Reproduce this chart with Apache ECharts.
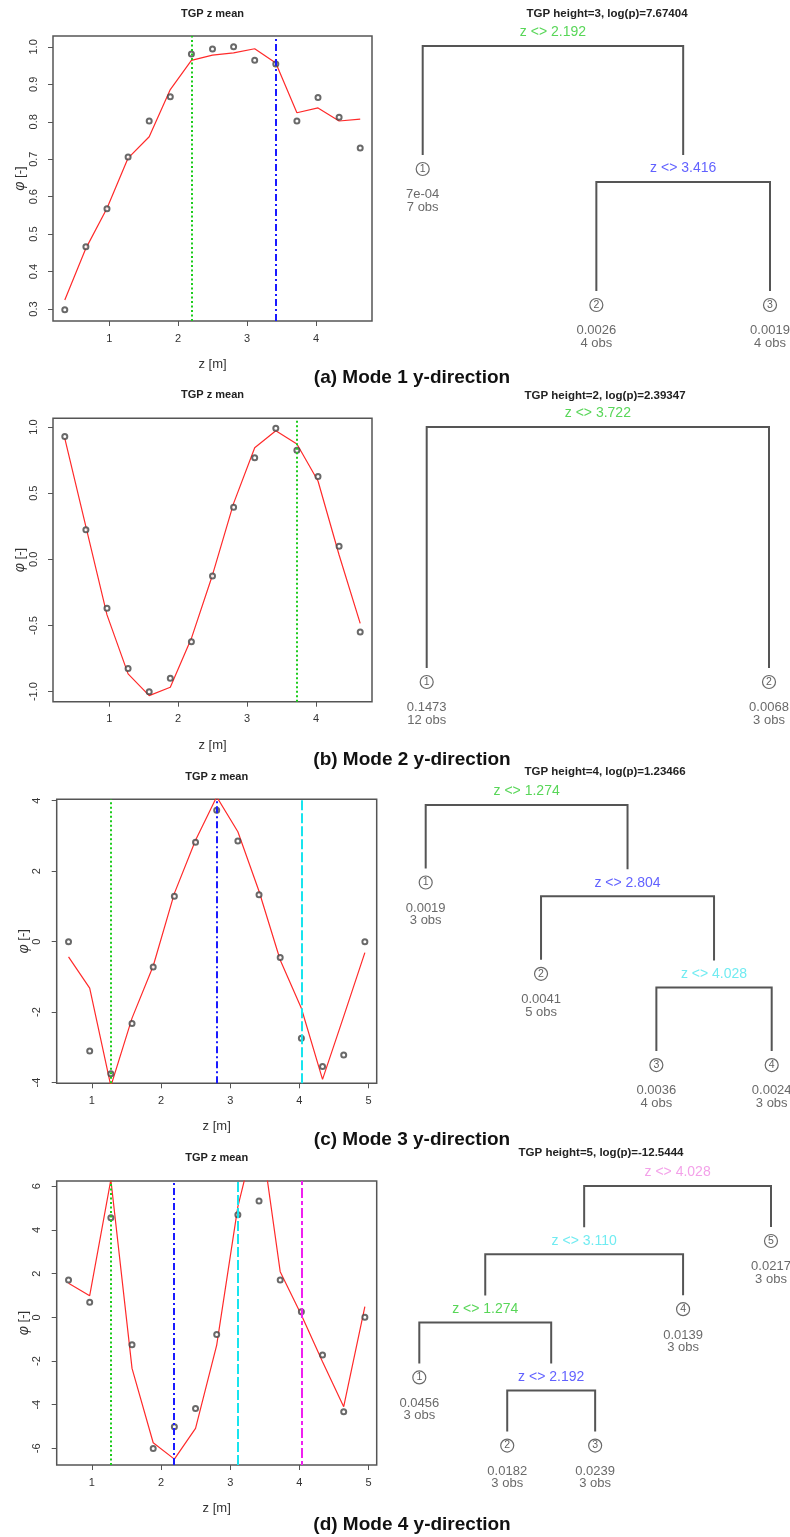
<!DOCTYPE html>
<html><head><meta charset="utf-8">
<script src="https://cdn.jsdelivr.net/npm/echarts@6/dist/echarts.min.js"></script>
<style>html,body{margin:0;padding:0;background:#fff}#c{width:790px;height:1537px}</style>
</head><body><div id="c"></div>
<script>
// ---------- DATA ----------
const zAB = [0.356, 0.662, 0.968, 1.274, 1.580, 1.886, 2.192, 2.498, 2.804, 3.110, 3.416, 3.722, 4.028, 4.334, 4.640];
const zCD = [0.662, 0.968, 1.274, 1.580, 1.886, 2.192, 2.498, 2.804, 3.110, 3.416, 3.722, 4.028, 4.334, 4.640, 4.946];

const obsA  = [0.298, 0.466, 0.568, 0.706, 0.802, 0.867, 0.981, 0.994, 1.000, 0.964, 0.954, 0.802, 0.865, 0.812, 0.730];
const meanA = [0.324, 0.462, 0.569, 0.703, 0.760, 0.886, 0.964, 0.978, 0.984, 0.995, 0.957, 0.824, 0.837, 0.802, 0.807];

const obsB  = [0.929, 0.224, -0.370, -0.826, -1.000, -0.899, -0.622, -0.126, 0.393, 0.768, 0.990, 0.824, 0.627, 0.098, -0.549];
const meanB = [0.914, 0.247, -0.420, -0.866, -1.030, -0.967, -0.597, -0.118, 0.423, 0.844, 0.972, 0.872, 0.592, 0.033, -0.484];

const obsC  = [0.00, -3.10, -3.75, -2.32, -0.72, 1.29, 2.82, 3.73, 2.86, 1.33, -0.45, -2.74, -3.54, -3.22, 0.00];
const meanC = [-0.43, -1.32, -4.10, -2.17, -0.69, 1.37, 2.88, 4.11, 3.12, 1.43, -0.52, -1.89, -3.91, -2.12, -0.31];

const obsD  = [1.71, 0.69, 4.56, -1.25, -6.00, -5.01, -4.17, -0.79, 4.69, 5.33, 1.71, 0.26, -1.73, -4.32, 0.00];
const meanD = [1.56, 0.99, 6.30, -2.34, -5.74, -6.49, -5.08, -1.27, 5.07, 9.00, 2.09, 0.11, -2.03, -4.09, 0.49];

const splitsA = [2.192, 3.416];               const splitKindsA = ['green', 'blue'];
const splitsB = [3.722];                      const splitKindsB = ['green'];
const splitsC = [1.274, 2.804, 4.028];        const splitKindsC = ['green', 'blue', 'cyan'];
const splitsD = [1.274, 2.192, 3.110, 4.028]; const splitKindsD = ['green', 'blue', 'cyan', 'magenta'];

const xTicksAB = [1, 2, 3, 4];
const xTicksCD = [1, 2, 3, 4, 5];
const yTicksA = [0.3, 0.4, 0.5, 0.6, 0.7, 0.8, 0.9, 1.0];
const yTicksB = [-1.0, -0.5, 0.0, 0.5, 1.0];
const yTicksC = [-4, -2, 0, 2, 4];
const yTicksD = [-6, -4, -2, 0, 2, 4, 6];

const xRangeAB = [0.185, 4.811];
const xRangeCD = [0.491, 5.117];
const yRangeA = [0.268, 1.029];
const yRangeB = [-1.076, 1.066];
const yRangeC = [-4.02, 4.04];
const yRangeD = [-6.76, 6.24];

// regression trees (split value, colour kind, leaf value, number of obs)
const treeA = {split: 'z <> 2.192', kind: 'green',
  L: {leaf: '7e-04', n: 7},
  R: {split: 'z <> 3.416', kind: 'blue', L: {leaf: '0.0026', n: 4}, R: {leaf: '0.0019', n: 4}}};
const treeB = {split: 'z <> 3.722', kind: 'green',
  L: {leaf: '0.1473', n: 12}, R: {leaf: '0.0068', n: 3}};
const treeC = {split: 'z <> 1.274', kind: 'green',
  L: {leaf: '0.0019', n: 3},
  R: {split: 'z <> 2.804', kind: 'blue', L: {leaf: '0.0041', n: 5},
      R: {split: 'z <> 4.028', kind: 'cyan', L: {leaf: '0.0036', n: 4}, R: {leaf: '0.0024', n: 3}}}};
const treeD = {split: 'z <> 4.028', kind: 'magenta',
  L: {split: 'z <> 3.110', kind: 'cyan',
      L: {split: 'z <> 1.274', kind: 'green', L: {leaf: '0.0456', n: 3},
          R: {split: 'z <> 2.192', kind: 'blue', L: {leaf: '0.0182', n: 3}, R: {leaf: '0.0239', n: 3}}},
      R: {leaf: '0.0139', n: 3}},
  R: {leaf: '0.0217', n: 3}};

const plotTitle = 'TGP z mean';
const treeTitles = ['TGP height=3, log(p)=7.67404', 'TGP height=2, log(p)=2.39347',
                    'TGP height=4, log(p)=1.23466', 'TGP height=5, log(p)=-12.5444'];
const captions = ['(a) Mode 1 y-direction', '(b) Mode 2 y-direction',
                  '(c) Mode 3 y-direction', '(d) Mode 4 y-direction'];
const xName = 'z [m]';

// ---------- STYLE / LAYOUT ----------
const FONT = '"Liberation Sans", Arial, Helvetica, sans-serif';
const lineKinds = {
  green:   {color: '#1ccc1c', type: [2, 2.5], width: 2},
  blue:    {color: '#1a1aff', type: [7, 3, 2, 3], width: 2},
  cyan:    {color: '#18e4ee', type: [10, 3], width: 2},
  magenta: {color: '#f020f0', type: [4, 3, 10, 3], width: 2}
};
const labelKinds = {green: '#2ecc2e', blue: '#3a3aff', cyan: '#4ce6ee', magenta: '#f08ae4'};

const panels = [
  {z: zAB, obs: obsA, mean: meanA, splits: splitsA, kinds: splitKindsA, xr: xRangeAB, yr: yRangeA, xt: xTicksAB, yt: yTicksA, dec: 1, box: [53, 36, 372, 321], titleY: 14},
  {z: zAB, obs: obsB, mean: meanB, splits: splitsB, kinds: splitKindsB, xr: xRangeAB, yr: yRangeB, xt: xTicksAB, yt: yTicksB, dec: 1, box: [53, 418.3, 372, 701.7], titleY: 395},
  {z: zCD, obs: obsC, mean: meanC, splits: splitsC, kinds: splitKindsC, xr: xRangeCD, yr: yRangeC, xt: xTicksCD, yt: yTicksC, dec: 0, box: [56.7, 799.3, 376.7, 1083.3], titleY: 776.7},
  {z: zCD, obs: obsD, mean: meanD, splits: splitsD, kinds: splitKindsD, xr: xRangeCD, yr: yRangeD, xt: xTicksCD, yt: yTicksD, dec: 0, box: [56.7, 1181, 376.7, 1465], titleY: 1157.7}
];

const treeLayouts = [
  {tree: treeA, firstX: 422.7, lastX: 770, rootY: 46, step: 136, leafDrop: 123, titleX: 607, titleY: 14},
  {tree: treeB, firstX: 426.7, lastX: 769, rootY: 427, step: 255, leafDrop: 255, titleX: 605, titleY: 395.7},
  {tree: treeC, firstX: 425.7, lastX: 771.7, rootY: 805, step: 91.3, leafDrop: 77.5, titleX: 605, titleY: 772.3},
  {tree: treeD, firstX: 419.3, lastX: 771, rootY: 1186, step: 68.2, leafDrop: 55, titleX: 601, titleY: 1153.3}
];
const captionPos = [[412, 378], [412, 760], [412, 1140], [412, 1525]];

const NODE_GAP = 27, LEAF_GAP = 14;

// ---------- BUILD ----------
const grids = [], xAxes = [], yAxes = [], series = [], graphics = [];

panels.forEach((p, i) => {
  const [l, t, r, b] = p.box;
  grids.push({left: l, top: t, width: r - l, height: b - t, show: true, borderColor: '#555', borderWidth: 1.5, backgroundColor: 'transparent'});
  xAxes.push({
    type: 'value', gridIndex: i, min: p.xr[0], max: p.xr[1], position: 'bottom',
    axisLine: {show: false, onZero: false}, splitLine: {show: false},
    axisTick: {show: true, inside: false, length: 5, lineStyle: {color: '#555', width: 1}, customValues: p.xt},
    axisLabel: {show: true, customValues: p.xt, color: '#333', fontSize: 11, fontFamily: FONT, margin: 12, formatter: v => String(v)},
    name: xName, nameLocation: 'middle', nameGap: 37,
    nameTextStyle: {color: '#333', fontSize: 13, fontFamily: FONT}
  });
  yAxes.push({
    type: 'value', gridIndex: i, min: p.yr[0], max: p.yr[1], position: 'left',
    axisLine: {show: false, onZero: false}, splitLine: {show: false},
    axisTick: {show: true, inside: false, length: 5, lineStyle: {color: '#555', width: 1}, customValues: p.yt},
    axisLabel: {show: true, customValues: p.yt, rotate: 90, color: '#333', fontSize: 11, fontFamily: FONT, margin: 14,
      formatter: v => Number(v).toFixed(p.dec)},
    name: '{i|φ} [-]', nameLocation: 'middle', nameGap: 26, nameRotate: 90,
    nameTextStyle: {color: '#333', fontSize: 13, fontFamily: FONT, rich: {i: {fontStyle: 'italic', fontSize: 14, fontFamily: FONT, color: '#333'}}}
  });
  series.push({
    type: 'line', xAxisIndex: i, yAxisIndex: i, data: p.z.map((z, k) => [z, p.mean[k]]),
    showSymbol: false, symbol: 'none', clip: true, z: 3,
    lineStyle: {color: '#ff2a2a', width: 1.2}, silent: true,
    markLine: {
      silent: true, symbol: 'none', label: {show: false},
      data: p.splits.map((s, k) => ({xAxis: s, lineStyle: {
        color: lineKinds[p.kinds[k]].color, type: lineKinds[p.kinds[k]].type, width: lineKinds[p.kinds[k]].width}}))
    }
  });
  series.push({
    type: 'scatter', xAxisIndex: i, yAxisIndex: i, data: p.z.map((z, k) => [z, p.obs[k]]),
    symbol: 'emptyCircle', symbolSize: 5, clip: true, z: 4, silent: true,
    itemStyle: {color: '#444', borderColor: '#444', borderWidth: 0.8}
  });
  graphics.push({type: 'text', x: (l + r) / 2, y: p.titleY,
    style: {text: plotTitle, font: 'bold 11px ' + FONT, fill: '#222', align: 'center', verticalAlign: 'middle', textAlign: 'center', textVerticalAlign: 'middle'}});
});

// trees
treeLayouts.forEach((T, ti) => {
  const gi = panels.length + ti;
  const leaves = [], nodes = [], edges = [];
  let leafCount = 0;
  const dropFrac = T.leafDrop / T.step;
  function layout(node, depth) {
    if (node.leaf !== undefined) {
      node.x = leafCount++;
      node.idx = leafCount;
      leaves.push(node);
      return;
    }
    layout(node.L, depth + 1);
    layout(node.R, depth + 1);
    node.x = (node.L.x + node.R.x) / 2;
    node.lev = depth;
    node.L.lev = node.L.leaf !== undefined ? depth + dropFrac : node.L.lev;
    node.R.lev = node.R.leaf !== undefined ? depth + dropFrac : node.R.lev;
    nodes.push(node);
  }
  layout(T.tree, 0);
  nodes.forEach(nd => edges.push([nd.x, nd.lev, nd.L.x, nd.L.lev, nd.L.leaf !== undefined ? 1 : 0,
                                   nd.R.x, nd.R.lev, nd.R.leaf !== undefined ? 1 : 0]));
  const maxLev = Math.max(...leaves.map(lf => lf.lev));
  grids.push({left: T.firstX, top: T.rootY, width: T.lastX - T.firstX, height: maxLev * T.step, show: false});
  xAxes.push({type: 'value', gridIndex: gi, min: 0, max: leafCount - 1, show: false});
  yAxes.push({type: 'value', gridIndex: gi, min: 0, max: maxLev, inverse: true, show: false});
  series.push({
    type: 'custom', xAxisIndex: gi, yAxisIndex: gi, data: edges, clip: false, silent: true,
    encode: {x: 0, y: 1},
    renderItem: function (params, api) {
      const p = api.coord([api.value(0), api.value(1)]);
      const a = api.coord([api.value(2), api.value(3)]);
      const b = api.coord([api.value(5), api.value(6)]);
      const ga = api.value(4) ? LEAF_GAP : NODE_GAP;
      const gb = api.value(7) ? LEAF_GAP : NODE_GAP;
      return {type: 'polyline',
        shape: {points: [[a[0], a[1] - ga], [a[0], p[1]], [b[0], p[1]], [b[0], b[1] - gb]]},
        style: {stroke: '#555', lineWidth: 2, fill: null}};
    }
  });
  // split labels
  series.push({
    type: 'scatter', xAxisIndex: gi, yAxisIndex: gi, clip: false, silent: true,
    symbol: 'circle', symbolSize: 0.1, itemStyle: {color: 'rgba(0,0,0,0)'},
    data: nodes.map(nd => ({value: [nd.x, nd.lev], label: {color: labelKinds[nd.kind]}, name: nd.split})),
    label: {show: true, position: 'inside', offset: [0, -13.5], formatter: d => d.name, fontSize: 14, fontFamily: FONT}
  });
  // leaf circles
  series.push({
    type: 'scatter', xAxisIndex: gi, yAxisIndex: gi, clip: false, silent: true,
    symbol: 'circle', symbolSize: 13, itemStyle: {color: '#fff', borderColor: '#444', borderWidth: 1.2},
    data: leaves.map(lf => ({value: [lf.x, lf.lev], name: String(lf.idx)})),
    label: {show: true, position: 'inside', formatter: d => d.name, fontSize: 10.5, color: '#333', fontFamily: FONT}
  });
  // leaf texts
  series.push({
    type: 'scatter', xAxisIndex: gi, yAxisIndex: gi, clip: false, silent: true,
    symbol: 'circle', symbolSize: 0.1, itemStyle: {color: 'rgba(0,0,0,0)'},
    data: leaves.map(lf => ({value: [lf.x, lf.lev], name: lf.leaf + '\n' + lf.n + ' obs'})),
    label: {show: true, position: 'inside', offset: [0, 32], formatter: d => d.name, fontSize: 13, lineHeight: 12.5,
      color: '#444', fontFamily: FONT, align: 'center'}
  });
  graphics.push({type: 'text', x: T.titleX, y: T.titleY,
    style: {text: treeTitles[ti], font: 'bold 11.5px ' + FONT, fill: '#222', align: 'center', verticalAlign: 'middle', textAlign: 'center', textVerticalAlign: 'middle'}});
});

captions.forEach((c, i) => {
  graphics.push({type: 'text', x: captionPos[i][0], y: captionPos[i][1],
    style: {text: c, font: 'bold 19px ' + FONT, fill: '#111', align: 'center', verticalAlign: 'middle', textAlign: 'center', textVerticalAlign: 'middle'}});
});

const chart = echarts.init(document.getElementById('c'), null, {renderer: 'canvas'});
chart.setOption({
  animation: false,
  backgroundColor: '#fff',
  grid: grids, xAxis: xAxes, yAxis: yAxes, series: series,
  graphic: {elements: graphics}
});
</script></body></html>
